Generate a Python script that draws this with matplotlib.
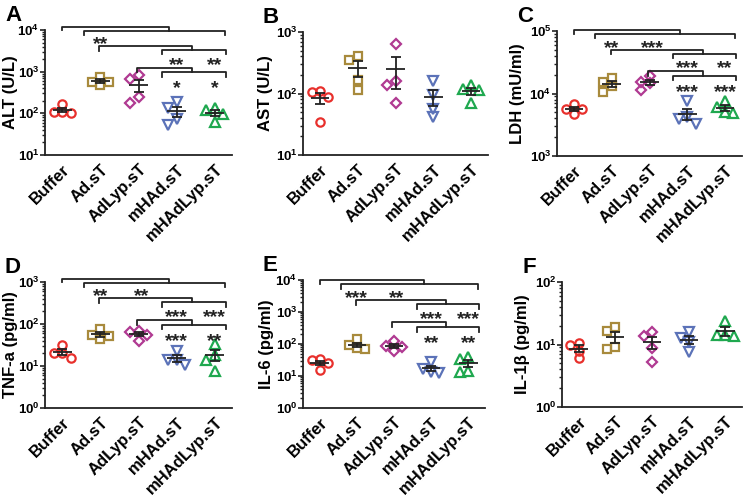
import matplotlib
matplotlib.use("Agg")
import matplotlib.pyplot as plt
import matplotlib.transforms as mtransforms
import numpy as np
from matplotlib.ticker import FuncFormatter, LogLocator, NullFormatter

plt.rcParams["font.family"] = ["Liberation Sans", "DejaVu Sans"]
plt.rcParams["font.weight"] = "bold"
plt.rcParams["mathtext.fontset"] = "custom"
plt.rcParams["mathtext.rm"] = "Liberation Sans:bold"
plt.rcParams["mathtext.bf"] = "Liberation Sans:bold"

# ── data (4 animals per group) ──────────────────────────────────────────────────
GROUPS = ["Buffer", "Ad.sT", "AdLyp.sT", "mHAd.sT", "mHAdLyp.sT"]

ALT = [[170, 100, 105, 110], [575, 550, 760, 480], [832, 667, 180, 251],
       [190, 132, 52, 72], [132, 120, 63, 95]]
AST = [[106, 88, 110, 35], [356, 408, 164, 113], [647, 160, 136, 69],
       [158, 94, 57, 42], [120, 69, 136, 113]]
LDH = [[6860, 5700, 5700, 4750], [17500, 15500, 13200, 10400],
       [19000, 15500, 14600, 11400], [7500, 4200, 3300, 3900],
       [7700, 5000, 6000, 4800]]
TNF = [[32, 20.4, 20.4, 15.5], [77, 56, 53, 43], [55, 65, 68, 40],
       [23, 14, 14, 10.5], [34, 18.6, 14, 7.5]]
IL6 = [[33, 25, 32, 15], [140, 90, 70, 75], [127, 84, 78, 59],
       [27, 17, 13, 12], [38, 34, 14.4, 13.4]]
IL1B = [[10.7, 9.8, 8.0, 6.0], [19.4, 16.5, 9.2, 8.5], [13.7, 16.1, 8.7, 5.3],
        [12.9, 16.1, 10.8, 7.5], [24, 14, 13.5, 14]]

# significance labels: row1 (vs Buffer), row2 (Ad.sT vs modified), row3 (AdLyp.sT vs modified)
STARS_A = [["**", ""], ["**", "**"], ["*", "*"]]
STARS_C = [["**", "***"], ["***", "**"], ["***", "***"]]
STARS_D = [["**", "**"], ["***", "***"], ["***", "**"]]
STARS_E = [["***", "**"], ["***", "***"], ["**", "**"]]

# ── style / layout ──────────────────────────────────────────────────────────────
COLORS = ["#e8302c", "#a88a3c", "#b03a92", "#5b72b8", "#1fa84f"]
MARKERS = ["o", "s", "D", "v", "^"]
MSIZE = [6, 5.6, 5.0, 6.5, 6.5]
INK = "#222222"

# panel: (letter, values, ylabel, ylim, stars,
#         axes box px [left, bottom, w, h], ylabel offset px, bracket shift)
PANELS = [
    ("A", ALT, "ALT (U/L)", (1e1, 1e4), STARS_A, [45, 155, 187, 125], -27, 0.0),
    ("B", AST, "AST (U/L)", (1e1, 1e3), None, [303, 155, 185, 123], -30, 0.0),
    ("C", LDH, "LDH (mU/ml)", (1e3, 1e5), STARS_C, [557, 156, 185, 125], -32, -0.02),
    ("D", TNF, "TNF-a (pg/ml)", (1e0, 1e3), STARS_D, [45, 408, 187, 126], -27, 0.0),
    ("E", IL6, "IL-6 (pg/ml)", (1e0, 1e4), STARS_E, [303, 408, 182, 128], -29, -0.03),
    ("F", IL1B, "IL-1β (pg/ml)", (1e0, 1e2), None, [562, 407, 180, 125], -32, 0.0),
]

# bracket geometry: x in category units, y in axes fraction
BRACKETS = [
    # (x0, x1, y, left leg end, right leg end)
    (0.0, 2.80, 1.027, 1.000, 0.995),
    (0.56, 4.26, 0.995, 0.962, 0.962),
    (0.97, 3.41, 0.872, 0.835, 0.839),
    (2.62, 4.28, 0.839, 0.805, 0.805),
    (1.95, 3.41, 0.699, 0.662, 0.662),
    (2.62, 4.28, 0.662, 0.625, 0.625),
]
STAR_ROWS = [(0.937, [1.0, 2.08]), (0.773, [3.0, 4.0]), (0.583, [3.0, 4.0])]
STAR_SIZE = 14

W, H = 750, 500


def swarm_offsets(ax, y, step=0.22, min_px=7.0):
    """Simple beeswarm: spread points sideways so markers don't overlap."""
    y = np.asarray(y, dtype=float)
    ypx = ax.transData.transform(np.column_stack([np.zeros(len(y)), y]))[:, 1]
    ppu = ax.transData.transform((1, 1))[0] - ax.transData.transform((0, 1))[0]
    offs = np.zeros(len(y))
    placed = []
    for i in np.argsort(-y):
        for k in [0, -1, 1, -2, 2]:
            xo = k * step
            if all(np.hypot((xo - px) * ppu, ypx[i] - py) >= min_px for px, py in placed):
                break
        offs[i] = xo
        placed.append((xo, ypx[i]))
    return offs


def sci(v, pos):
    return r"$\mathbf{10^{%d}}$" % int(round(np.log10(v)))


fig = plt.figure(figsize=(W / 100, H / 100), dpi=100)

for letter, vals, ylabel, ylim, stars, box, lab_dx, shift in PANELS:
    l, b, w, h = box
    ax = fig.add_axes([l / W, 1 - b / H, w / W, h / H])
    ax.set_yscale("log")
    ax.set_ylim(*ylim)
    ax.set_xlim(-0.45, 4.45)
    for s in ("top", "right"):
        ax.spines[s].set_visible(False)
    for s in ("left", "bottom"):
        ax.spines[s].set_linewidth(1.3)
        ax.spines[s].set_color(INK)

    for i, grp in enumerate(vals):
        arr = np.asarray(grp, dtype=float)
        xo = swarm_offsets(ax, arr)
        ax.plot(i + xo, arr, ls="none", marker=MARKERS[i], ms=MSIZE[i],
                mfc="none", mec=COLORS[i], mew=1.6, zorder=2, clip_on=False)
        mean = arr.mean()
        sem = arr.std(ddof=1) / np.sqrt(len(arr))
        ax.hlines(mean, i - 0.25, i + 0.25, color=INK, lw=1.3, zorder=3)
        ax.errorbar(i, mean, yerr=sem, fmt="none", ecolor=INK, elinewidth=1.3,
                    capsize=3.8, capthick=1.3, zorder=3)

    ax.yaxis.set_major_locator(LogLocator(base=10, numticks=10))
    ax.yaxis.set_minor_locator(LogLocator(base=10, subs=np.arange(2, 10), numticks=10))
    ax.yaxis.set_major_formatter(FuncFormatter(sci))
    ax.yaxis.set_minor_formatter(NullFormatter())
    ax.tick_params(axis="y", which="major", length=3.5, width=1.2, color=INK,
                   labelsize=9.5, pad=0.5)
    ax.tick_params(axis="y", which="minor", length=2.2, width=1.0, color=INK)
    ax.set_xticks(range(len(GROUPS)))
    ax.set_xticklabels(GROUPS, rotation=45, ha="right", rotation_mode="anchor",
                       fontsize=12, fontweight="bold")
    ax.tick_params(axis="x", length=0, pad=5)
    ax.set_ylabel(ylabel, fontsize=12, fontweight="bold")
    ax.yaxis.set_label_coords(lab_dx / w, 0.5)

    fig.text((l - 40) / W, 1 - (b - h - 9) / H, letter, fontsize=16,
             fontweight="bold", va="baseline", ha="left")

    if stars is not None:
        tr = mtransforms.blended_transform_factory(ax.transData, ax.transAxes)
        for x0, x1, y, yl, yr in BRACKETS:
            ax.plot([x0, x0, x1, x1], [yl + shift, y + shift, y + shift, yr + shift],
                    transform=tr, color=INK, lw=1.3, clip_on=False, zorder=4)
        # asterisks sit high in the em box: drop the baseline so the glyphs centre on the row
        str_tr = mtransforms.offset_copy(tr, fig=fig, y=-0.58 * STAR_SIZE, units="points")
        for (yrow, xs), labels in zip(STAR_ROWS, stars):
            for x, lab in zip(xs, labels):
                if lab:
                    ax.text(x, yrow + shift, lab, transform=str_tr, ha="center",
                            va="baseline", fontsize=STAR_SIZE, fontweight="bold",
                            color=INK)

fig.savefig("out.png", dpi=100)
